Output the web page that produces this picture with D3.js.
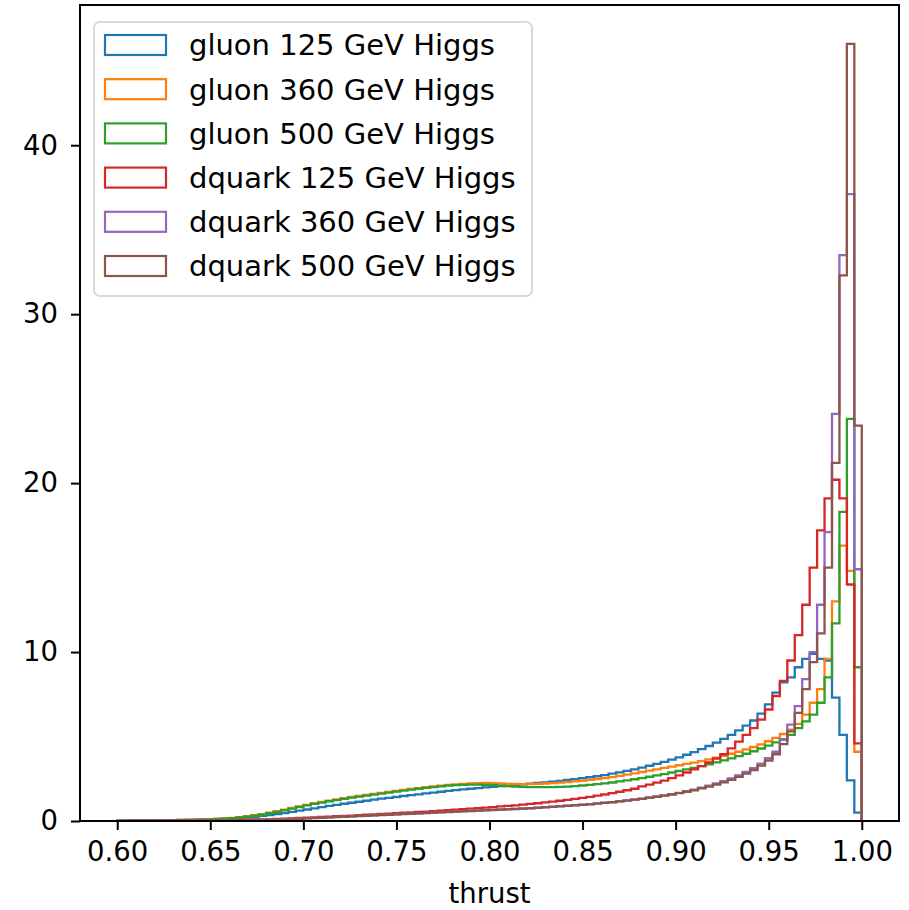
<!DOCTYPE html>
<html>
<head>
<meta charset="utf-8">
<script src="https://cdn.jsdelivr.net/npm/d3@7"></script>
<style>
  html, body { margin: 0; padding: 0; background: #fff; }
  svg { display: block; }
  text { font-family: "DejaVu Sans", sans-serif; fill: #000; }
</style>
</head>
<body>
<svg id="chart" width="909" height="910"></svg>
<script>
// ---- data (100 bins, 0.60 .. 1.00, width 0.004) ----
const binStart = 0.6;
const binWidth = 0.004;
const seriesNames = ["gluon 125 GeV Higgs", "gluon 360 GeV Higgs", "gluon 500 GeV Higgs",
                     "dquark 125 GeV Higgs", "dquark 360 GeV Higgs", "dquark 500 GeV Higgs"];
const seriesColors = ["#1f77b4", "#ff7f0e", "#2ca02c", "#d62728", "#9467bd", "#8c564b"];

const gluon125 = [
  0.02,0.02,0.03,0.03,0.04,0.04,0.05,0.05,0.06,0.07,
  0.08,0.09,0.10,0.11,0.13,0.15,0.18,0.21,0.25,0.30,
  0.35,0.41,0.47,0.54,0.61,0.68,0.75,0.82,0.89,0.96,
  1.02,1.08,1.14,1.20,1.26,1.32,1.37,1.42,1.48,1.53,
  1.58,1.63,1.68,1.73,1.78,1.83,1.87,1.91,1.95,1.99,
  2.02,2.06,2.10,2.13,2.17,2.21,2.25,2.29,2.33,2.38,
  2.43,2.48,2.53,2.59,2.65,2.72,2.80,2.88,2.97,3.06,
  3.16,3.27,3.38,3.50,3.63,3.77,3.92,4.08,4.25,4.44,
  4.64,4.86,5.10,5.36,5.65,5.95,6.35,6.90,7.60,8.20,
  8.50,9.10,9.60,9.90,9.60,9.50,7.30,5.10,2.40,0.50];
const gluon360 = [
  0.01,0.02,0.02,0.03,0.03,0.04,0.05,0.05,0.06,0.07,
  0.08,0.10,0.11,0.13,0.16,0.19,0.23,0.28,0.34,0.41,
  0.49,0.58,0.67,0.77,0.87,0.96,1.05,1.13,1.21,1.28,
  1.35,1.42,1.48,1.54,1.60,1.66,1.72,1.78,1.84,1.90,
  1.95,2.00,2.05,2.09,2.13,2.17,2.20,2.22,2.24,2.25,
  2.24,2.22,2.20,2.19,2.18,2.19,2.20,2.22,2.24,2.27,
  2.30,2.34,2.38,2.43,2.48,2.54,2.60,2.67,2.74,2.82,
  2.90,2.98,3.06,3.14,3.22,3.30,3.38,3.46,3.55,3.65,
  3.75,3.86,3.98,4.10,4.24,4.38,4.54,4.72,4.92,5.15,
  5.40,5.75,6.30,7.00,7.80,9.60,13.0,16.3,14.8,4.10];
const gluon500 = [
  0.01,0.01,0.02,0.02,0.03,0.03,0.04,0.05,0.05,0.06,
  0.07,0.08,0.10,0.12,0.14,0.17,0.21,0.26,0.32,0.38,
  0.46,0.54,0.63,0.73,0.83,0.92,1.01,1.09,1.17,1.24,
  1.31,1.38,1.44,1.50,1.56,1.62,1.68,1.74,1.80,1.86,
  1.91,1.96,2.01,2.05,2.09,2.12,2.14,2.15,2.15,2.14,
  2.12,2.09,2.06,2.04,2.02,2.01,2.00,2.00,2.01,2.02,
  2.04,2.07,2.10,2.14,2.18,2.23,2.28,2.34,2.40,2.47,
  2.54,2.62,2.70,2.78,2.87,2.96,3.05,3.15,3.25,3.36,
  3.47,3.59,3.71,3.84,3.98,4.13,4.29,4.46,4.65,4.85,
  5.10,5.50,5.90,6.30,7.00,8.50,11.7,18.3,23.8,9.10];
const dquark125 = [
  0.00,0.01,0.01,0.01,0.01,0.02,0.02,0.02,0.03,0.03,
  0.03,0.04,0.04,0.05,0.05,0.06,0.07,0.08,0.09,0.10,
  0.11,0.13,0.14,0.16,0.18,0.20,0.22,0.24,0.26,0.28,
  0.30,0.32,0.35,0.37,0.39,0.42,0.44,0.46,0.49,0.51,
  0.54,0.56,0.59,0.61,0.64,0.67,0.70,0.73,0.76,0.79,
  0.82,0.86,0.89,0.93,0.97,1.01,1.05,1.10,1.15,1.20,
  1.25,1.31,1.37,1.43,1.50,1.57,1.65,1.73,1.82,1.91,
  2.05,2.15,2.27,2.39,2.54,2.70,2.87,3.05,3.25,3.47,
  3.70,3.95,4.30,4.70,5.10,5.50,6.00,6.60,7.40,8.30,
  9.50,11.0,12.8,15.0,17.2,19.1,20.2,19.1,14.0,4.60];
const dquark360 = [
  0.00,0.00,0.01,0.01,0.01,0.01,0.02,0.02,0.02,0.02,
  0.03,0.03,0.03,0.04,0.04,0.05,0.05,0.06,0.07,0.08,
  0.09,0.10,0.11,0.13,0.14,0.16,0.18,0.20,0.22,0.24,
  0.26,0.28,0.30,0.32,0.34,0.36,0.38,0.40,0.42,0.44,
  0.46,0.48,0.50,0.52,0.54,0.56,0.58,0.60,0.62,0.64,
  0.66,0.68,0.70,0.72,0.74,0.76,0.79,0.82,0.85,0.88,
  0.91,0.94,0.97,1.00,1.04,1.08,1.12,1.17,1.22,1.27,
  1.33,1.39,1.45,1.52,1.59,1.67,1.76,1.86,1.97,2.09,
  2.22,2.36,2.52,2.70,2.90,3.13,3.40,3.72,4.10,4.80,
  5.70,6.80,8.40,10.0,12.8,17.1,24.1,33.5,37.1,14.9];
const dquark500 = [
  0.00,0.00,0.01,0.01,0.01,0.01,0.01,0.02,0.02,0.02,
  0.02,0.03,0.03,0.04,0.04,0.04,0.05,0.06,0.06,0.07,
  0.08,0.09,0.10,0.12,0.13,0.15,0.17,0.19,0.21,0.23,
  0.25,0.27,0.29,0.31,0.33,0.35,0.37,0.39,0.41,0.43,
  0.45,0.47,0.49,0.51,0.53,0.55,0.57,0.59,0.61,0.63,
  0.65,0.67,0.69,0.71,0.73,0.75,0.78,0.81,0.84,0.87,
  0.90,0.93,0.96,0.99,1.03,1.07,1.11,1.16,1.21,1.26,
  1.31,1.37,1.43,1.50,1.57,1.65,1.73,1.82,1.93,2.04,
  2.15,2.29,2.44,2.61,2.80,3.02,3.28,3.58,3.95,4.55,
  5.30,6.40,7.80,9.40,11.1,15.0,21.2,32.3,46.0,23.4];

const seriesValues = [gluon125, gluon360, gluon500, dquark125, dquark360, dquark500];
const xTicks = [0.60, 0.65, 0.70, 0.75, 0.80, 0.85, 0.90, 0.95, 1.00];
const yTicks = [0, 10, 20, 30, 40];
const xLabel = "thrust";

// ---- layout ----
const svg = d3.select("#chart");
const mLeft = 80, mRight = 899, mTop = 5, mBottom = 821;
const nBins = gluon125.length;
const xMin = binStart, xMax = binStart + binWidth * nBins;
const pad = (xMax - xMin) * 0.05;
const yMaxData = d3.max(seriesValues, s => d3.max(s));
const x = d3.scaleLinear().domain([xMin - pad, xMax + pad]).range([mLeft, mRight]);
const y = d3.scaleLinear().domain([0, yMaxData * 1.05]).range([mBottom, mTop]);

const plot = svg.append("g");
svg.append("clipPath").attr("id", "clip").append("rect")
  .attr("x", mLeft).attr("y", mTop).attr("width", mRight - mLeft).attr("height", mBottom - mTop);

// step histograms
seriesValues.forEach((vals, k) => {
  const pts = [[xMin, 0]];
  vals.forEach((v, i) => {
    const x0 = binStart + i * binWidth, x1 = x0 + binWidth;
    pts.push([x0, v]); pts.push([x1, v]);
  });
  pts.push([xMax, 0]);
  const line = d3.line().x(d => x(d[0])).y(d => y(d[1]));
  plot.append("path")
    .attr("d", line(pts))
    .attr("fill", "none")
    .attr("stroke", seriesColors[k])
    .attr("stroke-width", 2.3)
    .attr("stroke-linejoin", "miter")
    .attr("clip-path", "url(#clip)");
});

// axes
const fs = 27.5;
const xAxis = d3.axisBottom(x).tickValues(xTicks).tickFormat(d3.format(".2f"))
  .tickSize(9).tickPadding(11);
const gx = svg.append("g").attr("transform", `translate(0,${mBottom})`).call(xAxis);
const yAxis = d3.axisLeft(y).tickValues(yTicks).tickFormat(d3.format("d"))
  .tickSize(9).tickPadding(13);
const gy = svg.append("g").attr("transform", `translate(${mLeft},0)`).call(yAxis);
[gx, gy].forEach(g => {
  g.select(".domain").remove();
  g.selectAll(".tick line").attr("stroke", "#000").attr("stroke-width", 2);
  g.selectAll(".tick text").attr("font-size", fs).attr("font-family", "DejaVu Sans").attr("fill", "#000");
});

// frame
svg.append("rect").attr("x", mLeft).attr("y", mTop).attr("width", mRight - mLeft).attr("height", mBottom - mTop)
  .attr("fill", "none").attr("stroke", "#000").attr("stroke-width", 2);

svg.append("text").attr("x", (mLeft + mRight) / 2).attr("y", 903)
  .attr("text-anchor", "middle").attr("font-size", fs).text(xLabel);

// legend
const lg = svg.append("g");
lg.append("rect").attr("x", 94).attr("y", 22).attr("width", 438).attr("height", 274)
  .attr("rx", 6).attr("fill", "#fff").attr("fill-opacity", 0.8)
  .attr("stroke", "#d9d9d9").attr("stroke-width", 2);
seriesNames.forEach((name, k) => {
  const cy = 45 + k * 44.2;
  lg.append("rect").attr("x", 105).attr("y", cy - 10).attr("width", 61).attr("height", 20)
    .attr("fill", "none").attr("stroke", seriesColors[k]).attr("stroke-width", 2.2);
  lg.append("text").attr("x", 189).attr("y", cy).attr("dy", "0.36em")
    .attr("font-size", 29).text(name);
});
</script>
</body>
</html>
